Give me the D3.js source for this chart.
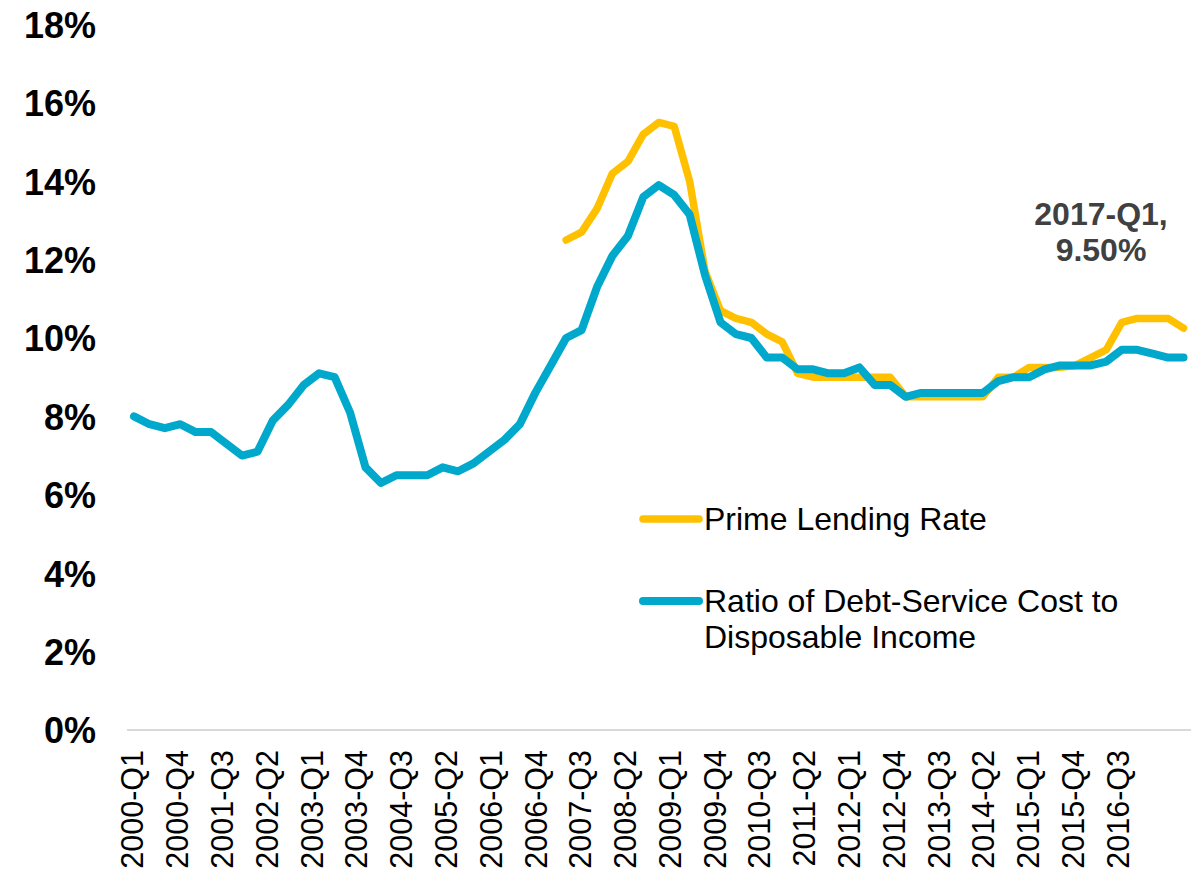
<!DOCTYPE html>
<html>
<head>
<meta charset="utf-8">
<script src="https://cdn.jsdelivr.net/npm/d3@7"></script>
<style>
  body { margin: 0; background: #fff; }
  text { font-family: "Liberation Sans", Arial, sans-serif; }
</style>
</head>
<body>
<div id="chart-area"></div>
<script>
// quarters of the two series (2000-Q1 .. 2017-Q1)
const quarters = []
for (let y = 2000; y <= 2017; y++) for (let q = 1; q <= 4; q++) quarters.push(`${y}-Q${q}`)
quarters.splice(69)

// axis categories run two quarters further than the lines
const axisQuarters = quarters.concat(["2017-Q2", "2017-Q3"])
const tickLabels = ["2000-Q1", "2000-Q4", "2001-Q3", "2002-Q2", "2003-Q1", "2003-Q4", "2004-Q3",
  "2005-Q2", "2006-Q1", "2006-Q4", "2007-Q3", "2008-Q2", "2009-Q1", "2009-Q4", "2010-Q3",
  "2011-Q2", "2012-Q1", "2012-Q4", "2013-Q3", "2014-Q2", "2015-Q1", "2015-Q4", "2016-Q3"]

const yTicks = [0, 2, 4, 6, 8, 10, 12, 14, 16, 18]

// Ratio of debt-service cost to disposable income (%)
const debtService = [8.0, 7.8, 7.7, 7.8, 7.6, 7.6, 7.3, 7.0, 7.1, 7.9,
  8.3, 8.8, 9.1, 9.0, 8.1, 6.7, 6.3, 6.5, 6.5, 6.5,
  6.7, 6.6, 6.8, 7.1, 7.4, 7.8, 8.6, 9.3, 10.0, 10.2,
  11.3, 12.1, 12.6, 13.6, 13.9, 13.65, 13.15, 11.6, 10.4, 10.1,
  10.0, 9.5, 9.5, 9.2, 9.2, 9.1, 9.1, 9.25, 8.8, 8.8,
  8.5, 8.6, 8.6, 8.6, 8.6, 8.6, 8.9, 9.0, 9.0, 9.2,
  9.3, 9.3, 9.3, 9.4, 9.7, 9.7, 9.6, 9.5, 9.5]

// Prime lending rate (%), starts 2007-Q1
const primeRate = [null, null, null, null, null, null, null, null, null, null,
  null, null, null, null, null, null, null, null, null, null,
  null, null, null, null, null, null, null, null, 12.5, 12.7,
  13.3, 14.2, 14.5, 15.2, 15.5, 15.4, 14.0, 11.7, 10.7, 10.5,
  10.4, 10.1, 9.9, 9.1, 9.0, 9.0, 9.0, 9.0, 9.0, 9.0,
  8.5, 8.5, 8.5, 8.5, 8.5, 8.5, 9.0, 9.0, 9.25, 9.25,
  9.25, 9.3, 9.5, 9.7, 10.4, 10.5, 10.5, 10.5, 10.25]

const seriesNames = ["Prime Lending Rate", "Ratio of Debt-Service Cost to Disposable Income"]
const YELLOW = "#FFC000"
const BLUE = "#00A8CC"

const W = 1203, H = 876

const svg = d3.select("#chart-area").append("svg")
  .attr("width", W)
  .attr("height", H)

// escalas
const x = d3.scalePoint().domain(quarters).range([134, 1183.5])
const xAxisScale = d3.scaleBand().domain(axisQuarters).range([125, 1185])
const y = d3.scaleLinear().domain([0, 18]).range([730, 24.4])

// eixo y (só os rótulos)
const yAxis = svg.append("g")
  .attr("transform", "translate(96, 0)")
  .call(d3.axisLeft(y).tickValues(yTicks).tickSize(0).tickPadding(0).tickFormat(d => d + "%"))
yAxis.select(".domain").remove()
yAxis.selectAll("text")
  .attr("font-size", "36px")
  .attr("font-weight", "bold")
  .attr("fill", "#000")
  .attr("dy", "0.36em")

// eixo x
svg.append("line")
  .attr("x1", 127).attr("x2", 1191)
  .attr("y1", 730).attr("y2", 730)
  .attr("stroke", "#D9D9D9")
  .attr("stroke-width", 2)

const xAxis = svg.append("g")
  .attr("transform", "translate(0, 730)")
  .call(d3.axisBottom(xAxisScale).tickValues(tickLabels).tickSize(0))
xAxis.select(".domain").remove()
xAxis.selectAll("text")
  .attr("transform", "rotate(-90)")
  .attr("x", -20)
  .attr("y", 0)
  .attr("dy", "0.36em")
  .attr("font-size", "30.5px")
  .attr("fill", "#000")
  .style("text-anchor", "end")

// linhas
const line = values => d3.line()
  .defined((d, i) => values[i] != null)
  .x((d, i) => x(quarters[i]))
  .y((d, i) => y(values[i]))(values)

svg.append("path")
  .attr("fill", "none")
  .attr("stroke", YELLOW)
  .attr("stroke-width", 7.5)
  .attr("stroke-linecap", "round")
  .attr("stroke-linejoin", "round")
  .attr("d", line(primeRate))

svg.append("path")
  .attr("fill", "none")
  .attr("stroke", BLUE)
  .attr("stroke-width", 8)
  .attr("stroke-linecap", "round")
  .attr("stroke-linejoin", "round")
  .attr("d", line(debtService))

// rótulo do último ponto
const last = quarters.length - 1
const note = svg.append("text")
  .attr("x", 1101)
  .attr("y", 225)
  .attr("text-anchor", "middle")
  .attr("font-size", "32px")
  .attr("font-weight", "bold")
  .attr("fill", "#404040")
note.append("tspan").attr("x", 1101).text(quarters[last] + ",")
note.append("tspan").attr("x", 1101).attr("dy", 36).text(debtService[last].toFixed(2) + "%")

// legenda
const legend = svg.append("g")
legend.append("line")
  .attr("x1", 643).attr("x2", 699).attr("y1", 519).attr("y2", 519)
  .attr("stroke", YELLOW).attr("stroke-width", 7.5).attr("stroke-linecap", "round")
legend.append("text")
  .attr("x", 704).attr("y", 530)
  .attr("font-size", "32px")
  .attr("fill", "#000")
  .text(seriesNames[0])

legend.append("line")
  .attr("x1", 643).attr("x2", 699).attr("y1", 601).attr("y2", 601)
  .attr("stroke", BLUE).attr("stroke-width", 8).attr("stroke-linecap", "round")
const t2 = legend.append("text")
  .attr("x", 704).attr("y", 612)
  .attr("font-size", "32px")
  .attr("fill", "#000")
t2.append("tspan").attr("x", 704).text("Ratio of Debt-Service Cost to")
t2.append("tspan").attr("x", 704).attr("dy", 36).text("Disposable Income")
</script>
</body>
</html>
